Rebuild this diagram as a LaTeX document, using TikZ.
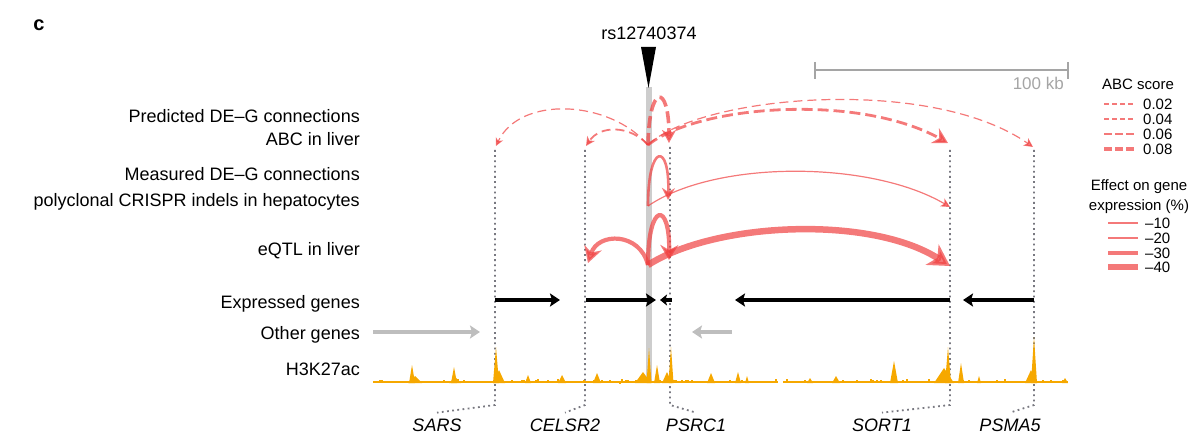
\documentclass[tikz,border=0pt]{standalone}
\usepackage{fontspec}
\setmainfont{Liberation Sans}
\usetikzlibrary{arrows.meta}

\definecolor{linkred}{RGB}{240,64,64}
\definecolor{acetyl}{RGB}{246,168,0}
\definecolor{snpbar}{RGB}{205,205,205}
\definecolor{genegray}{RGB}{190,190,190}
\definecolor{guidegray}{RGB}{120,120,128}
\definecolor{scalegray}{RGB}{165,165,165}

\tikzset{
    rowlab/.style={anchor=base east, inner sep=0pt, font=\fontsize{18}{21}\selectfont},
    genelab/.style={inner sep=1pt, outer sep=5pt, font=\fontsize{18}{21}\selectfont\itshape},
    legtitle/.style={inner sep=0pt, font=\fontsize{15}{20}\selectfont},
    leglab/.style={anchor=west, inner sep=0pt, font=\fontsize{15}{17}\selectfont},
    guide/.style={draw=guidegray, line width=1.8pt, dash pattern=on 1.8pt off 3.4pt},
    gene/.style={line width=4pt, -{Stealth[length=10pt, width=13pt, inset=2pt]}},
    expressed/.style={gene, draw=black},
    othergene/.style={gene, draw=genegray},
    degline/.style={draw=linkred, opacity=0.7},
    abc02/.style={degline, line width=1.2pt, dash pattern=on 9pt off 5pt},
    abc04/.style={degline, line width=1.8pt, dash pattern=on 9pt off 5pt},
    abc06/.style={degline, line width=2.8pt, dash pattern=on 11pt off 5pt},
    abc08/.style={degline, line width=3.6pt, dash pattern=on 12pt off 5pt},
    eff10/.style={degline, line width=1.2pt},
    eff20/.style={degline, line width=2.6pt},
    eff30/.style={degline, line width=4.2pt},
    eff40/.style={degline, line width=6.5pt},
}

\begin{document}
\begin{tikzpicture}[x=1pt, y=-1pt]
    \useasboundingbox (0,0) rectangle (1200,441);

    \node[font=\fontsize{20}{22}\selectfont\bfseries] (panel) at (39,25) {c};

    % row labels
    \node[rowlab] (pred1) at (360,123) {Predicted DE–G connections};
    \node[rowlab] (pred2) at (360,146) {ABC in liver};
    \node[rowlab] (meas1) at (360,180) {Measured DE–G connections};
    \node[rowlab] (meas2) at (360,206) {polyclonal CRISPR indels in hepatocytes};
    \node[rowlab] (eqtl) at (360,255) {eQTL in liver};
    \node[rowlab] (expr) at (360,308) {Expressed genes};
    \node[rowlab] (other) at (360,339) {Other genes};
    \node[rowlab] (h3k) at (360,375) {H3K27ac};

    % gene guides
    \node[genelab] (sars) at (437,425) {SARS};
    \node[genelab] (celsr) at (565,425) {CELSR2};
    \node[genelab] (psrc) at (696,425) {PSRC1};
    \node[genelab] (sort) at (882,425) {SORT1};
    \node[genelab] (psma) at (1010,425) {PSMA5};
    \foreach \g/\x/\t in {sars/495/150, celsr/585/150, psrc/670/147, sort/950/150, psma/1034/150} {
        \coordinate (\g-top) at (\x,\t);
        \coordinate (\g-bot) at (\x,405);
        \draw[guide] (\g-top) -- (\g-bot) -- (\g.north);
    }

    % variant
    \fill[snpbar] (646,87) rectangle (652,383);
    \fill[black] (641,47) -- (656,47) -- (648.5,88) -- cycle;
    \node[anchor=base, font=\fontsize{18}{21}\selectfont] (snp) at (649,40) {rs12740374};

    % H3K27ac track
    \fill[acetyl] (373,380.5) rectangle (778,383);
    \fill[acetyl] (783,380.5) rectangle (1068,383);
    \pgfmathsetseed{42}
    \foreach \x in {373,375,...,776,784,786,...,1066} {
        \pgfmathsetmacro\h{0.5+4*rnd*rnd}
        \fill[acetyl] (\x,383) rectangle ++(2,-\h);
    }
    \foreach \px/\py/\pw in {415/376/7, 412/365/3, 455/377/6, 454/367/3, 496/347/3, 499/370/6,
        528/375/3, 562/375/4, 597/373/4, 643/372/8, 649/348/2.5, 657/365/3, 667/372/5,
        671/347/2.5, 711/373/4, 738/372/3, 747/376/2, 810/378/3, 836/376/4, 894/361/4,
        944/368/10, 948/347/3, 961/363/3, 979/376/2, 1031/370/6, 1034/337/3, 1065/378/3}
        \fill[acetyl] (\px-\pw,383) -- (\px,\py) -- (\px+\pw,383) -- cycle;

    % genes
    \draw[expressed] (495,300) -- (560,300);
    \draw[expressed] (586,300) -- (656,300);
    \draw[expressed, -{Stealth[length=7pt, width=11pt, inset=1.5pt]}] (672,300) -- (660,300);
    \draw[expressed] (950,300) -- (735,300);
    \draw[expressed] (1034,300) -- (963,300);
    \draw[othergene] (373,332) -- (480,332);
    \draw[othergene] (732,332) -- (692,332);

    % DE-G connections
    \coordinate (abc-snp) at (648,145);
    \coordinate (abc-sars) at (496,146);
    \coordinate (abc-celsr) at (586,146);
    \coordinate (abc-psrc) at (669,143);
    \coordinate (abc-sort) at (948,143);
    \coordinate (abc-psma) at (1033,147);
    \coordinate (crispr-snp) at (648,206);
    \coordinate (crispr-psrc) at (668,200);
    \coordinate (crispr-sort) at (950,207);
    \coordinate (eqtl-snp) at (648,265);
    \coordinate (eqtl-celsr) at (588,263);
    \coordinate (eqtl-psrc) at (669,260);
    \coordinate (eqtl-sort) at (950,266);

    \draw[abc02, -{Stealth[length=8pt, width=8pt, inset=2.5pt]}] (abc-snp) .. controls +(-38,-45) and +(24,-51) .. (abc-sars);
    \draw[abc04, -{Stealth[length=9pt, width=9pt, inset=2.5pt]}] (abc-snp) .. controls +(-18,-20) and +(14,-21) .. (abc-celsr);
    \draw[abc08, -{Stealth[length=13pt, width=14pt, inset=4pt]}] (abc-snp) .. controls +(1,-62) and +(0,-60) .. (abc-psrc);
    \draw[abc06, -{Stealth[length=15pt, width=17pt, inset=5pt]}] (abc-snp) .. controls +(50,-40) and +(-90,-50) .. (abc-sort);
    \draw[abc02, -{Stealth[length=9pt, width=9pt, inset=2.5pt]}] (abc-snp) .. controls +(52,-50) and +(-103,-72) .. (abc-psma);

    \draw[eff20, -{Stealth[length=12pt, width=13pt, inset=4pt]}] (crispr-snp) .. controls +(0,-64) and +(2,-58) .. (crispr-psrc);
    \draw[eff10, -{Stealth[length=9pt, width=9pt, inset=2.5pt]}] (crispr-snp) .. controls +(67,-46) and +(-80,-47) .. (crispr-sort);

    \draw[eff30, -{Stealth[length=16pt, width=18pt, inset=5pt]}] (eqtl-snp) .. controls +(-8,-33) and +(10,-31) .. (eqtl-celsr);
    \draw[eff30, -{Stealth[length=15pt, width=18pt, inset=5pt]}] (eqtl-snp) .. controls +(0,-64) and +(1,-59) .. (eqtl-psrc);
    \draw[eff40, -{Stealth[length=21pt, width=24pt, inset=6pt]}] (eqtl-snp) .. controls +(67,-43) and +(-80,-51) .. (eqtl-sort);

    % scale bar
    \coordinate (bar-l) at (815,70);
    \coordinate (bar-r) at (1068,70);
    \draw[scalegray, line width=1.5pt] (815,62) -- (815,79) (1068,62) -- (1068,79) (bar-l) -- (bar-r);
    \node[anchor=base east, inner sep=0pt, text=scalegray, font=\fontsize{17}{20}\selectfont] (kb) at (1064,90) {100 kb};

    % legends
    \node[legtitle, anchor=west] (abc-title) at (1102,84) {ABC score};
    \foreach \sty/\dsh/\y/\val [count=\i] in {abc02/5/104/0.02, abc04/5/119/0.04, abc06/8/134/0.06, abc08/8/149/0.08} {
        \draw[\sty, dash pattern=on \dsh pt off 3pt] (1104,\y) -- (1135,\y);
        \node[leglab] (abc-key\i) at (1143,\y) {\val};
    }
    \node[legtitle, align=center] (eff-title) at (1139,197) {Effect on gene\\expression (\%)};
    \foreach \sty/\y/\val [count=\i] in {eff10/223/–10, eff20/238/–20, eff30/253/–30, eff40/267/–40} {
        \draw[\sty] (1108,\y) -- (1138,\y);
        \node[leglab] (eff-key\i) at (1145,\y) {\val};
    }
\end{tikzpicture}
\end{document}
